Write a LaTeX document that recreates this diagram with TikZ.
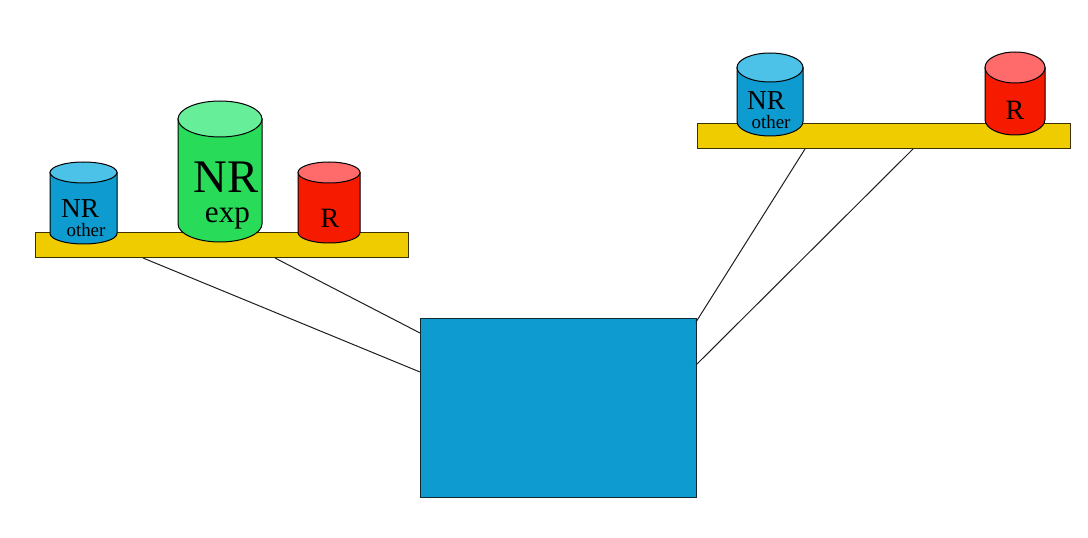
\documentclass[tikz,border=0pt]{standalone}
\usepackage{fontspec}
\setmainfont{Liberation Serif}

\begin{document}
\begin{tikzpicture}[x=0.75pt,y=0.75pt,yscale=-1,xscale=1,
  shelf/.style={draw={rgb, 255:red, 60; green, 50; blue, 0 },fill={rgb, 255:red, 238; green, 204; blue, 0 },line width=0.75,inner sep=0pt,outer sep=0pt,minimum width=279.75pt,minimum height=18.75pt},
  can/.style={draw={rgb, 255:red, 0; green, 0; blue, 0 },line width=0.75},
  link/.style={draw={rgb, 255:red, 30; green, 30; blue, 30 },line width=0.75},
  lbl/.style={anchor=base,inner sep=0pt}]
\useasboundingbox (0,0) rectangle (1088,538);

%Shelves and the box
\node [shelf] (shelfL) at (221.5,245.5) {};
\node [shelf] (shelfR) at (883.5,136.5) {};
\node [draw={rgb, 255:red, 20; green, 40; blue, 50 },fill={rgb, 255:red, 14; green, 155; blue, 208 },line width=0.75,inner sep=0pt,outer sep=0pt,minimum width=207pt,minimum height=134.25pt] (box) at (558,407.5) {};

%Straight Lines
\draw [link] ([xshift=81pt]shelfL.south west) -- ([yshift=40.5pt]box.north west) ;
\draw [link] ([xshift=180pt]shelfL.south west) -- ([yshift=11.25pt]box.north west) ;
\draw [link] ([xshift=81pt]shelfR.south west) -- ([yshift=3pt]box.north east) ;
\draw [link] ([xshift=162pt]shelfR.south west) -- ([yshift=35.25pt]box.north east) ;

%Shape: Can (left, NR other)
\draw [can,fill={rgb, 255:red, 14; green, 155; blue, 208 }] (50,172.5) -- (50,233.5) arc [start angle=180, end angle=0, x radius=33.5, y radius=10.5] -- (117,172.5) -- cycle ;
\draw [can,fill={rgb, 255:red, 76; green, 194; blue, 232 }] (83.5,172.5) ellipse [x radius=33.5, y radius=10.5] ;
%Shape: Can (left, NR exp)
\draw [can,fill={rgb, 255:red, 40; green, 219; blue, 88 }] (178,119) -- (178,224) arc [start angle=180, end angle=0, x radius=42, y radius=18] -- (262,119) -- cycle ;
\draw [can,fill={rgb, 255:red, 102; green, 238; blue, 153 }] (220,119) ellipse [x radius=42, y radius=18] ;
%Shape: Can (left, R)
\draw [can,fill={rgb, 255:red, 245; green, 26; blue, 0 }] (298,172.5) -- (298,232.5) arc [start angle=180, end angle=0, x radius=31, y radius=10.5] -- (360,172.5) -- cycle ;
\draw [can,fill={rgb, 255:red, 255; green, 107; blue, 107 }] (329,172.5) ellipse [x radius=31, y radius=10.5] ;
%Shape: Can (right, NR other)
\draw [can,fill={rgb, 255:red, 14; green, 155; blue, 208 }] (737,67.5) -- (737,121.5) arc [start angle=180, end angle=0, x radius=33, y radius=14.5] -- (803,67.5) -- cycle ;
\draw [can,fill={rgb, 255:red, 76; green, 194; blue, 232 }] (770,67.5) ellipse [x radius=33, y radius=14.5] ;
%Shape: Can (right, R)
\draw [can,fill={rgb, 255:red, 245; green, 26; blue, 0 }] (985,67.5) -- (985,119.5) arc [start angle=180, end angle=0, x radius=30, y radius=15.5] -- (1045,67.5) -- cycle ;
\draw [can,fill={rgb, 255:red, 255; green, 107; blue, 107 }] (1015,67.5) ellipse [x radius=30, y radius=15.5] ;

% Text Node
\node [lbl,font=\fontsize{20.5}{20.5}\selectfont] (nrL) at (80,218) {NR};
\node [lbl,font=\fontsize{14.2}{14.2}\selectfont] (otherL) at (86,237) {other};
\node [lbl,font=\fontsize{35}{35}\selectfont] (nrexp) at (225.8,193) {NR};
\node [lbl,font=\fontsize{23.4}{23.4}\selectfont] (exp) at (227.5,223) {exp};
\node [lbl,font=\fontsize{21}{21}\selectfont] (rL) at (330,228) {R};
\node [lbl,font=\fontsize{20.5}{20.5}\selectfont] (nrR) at (766,110) {NR};
\node [lbl,font=\fontsize{14.2}{14.2}\selectfont] (otherR) at (771,129) {other};
\node [lbl,font=\fontsize{21}{21}\selectfont] (rR) at (1015,120) {R};

\end{tikzpicture}
\end{document}
